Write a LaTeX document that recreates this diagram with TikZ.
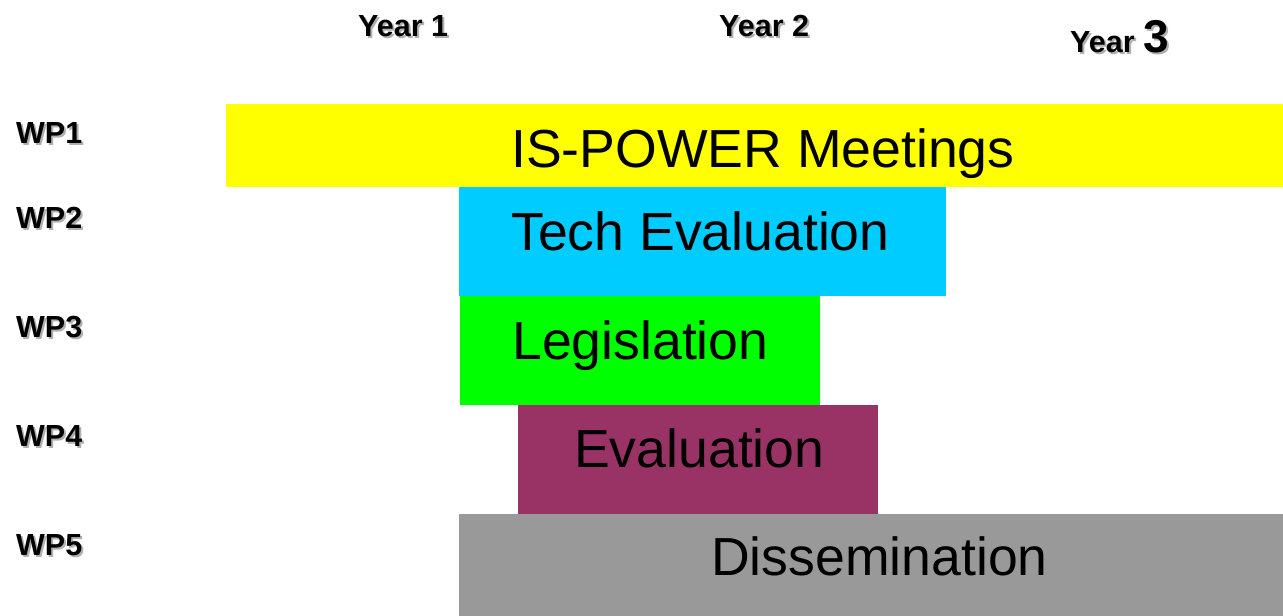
\documentclass[tikz,border=0pt]{standalone}
\usepackage{fontspec}
\setmainfont{Liberation Sans}
\definecolor{barY}{HTML}{FFFF00}
\definecolor{barC}{HTML}{00CCFF}
\definecolor{barG}{HTML}{00FF00}
\definecolor{barM}{HTML}{993366}
\definecolor{barS}{HTML}{999999}
\definecolor{shade}{HTML}{B0B0B0}
\begin{document}
\begin{tikzpicture}[x=1pt,y=-1pt,
  bar/.style={draw=none,inner sep=0pt,outer sep=0pt,anchor=north west},
  bartext/.style={inner sep=0pt,anchor=base west,font=\fontsize{53.6}{60}\selectfont},
  lbl/.style={inner sep=0pt,anchor=base west,font=\bfseries\fontsize{30.5}{33}\selectfont},
  lblshadow/.style={lbl,text=shade}]
\useasboundingbox (0,0) rectangle (1283,616);
% bars
\node[bar,fill=barY,minimum width=1057pt,minimum height=83pt] (b1) at (226,104) {};
\node[bar,fill=barC,minimum width=487pt,minimum height=109pt] (b2) at (459,187) {};
\node[bar,fill=barG,minimum width=360pt,minimum height=109pt] (b3) at (460,296) {};
\node[bar,fill=barM,minimum width=360pt,minimum height=109pt] (b4) at (518,405) {};
\node[bar,fill=barS,minimum width=824pt,minimum height=102pt] (b5) at (459,514) {};
% bar texts
\node[bartext] (t1) at (511,167) {IS-POWER Meetings};
\node[bartext] (t2) at (511,250) {Tech Evaluation};
\node[bartext] (t3) at (512,359) {Legislation};
\node[bartext] (t4) at (574,467) {Evaluation};
\node[bartext] (t5) at (711,575) {Dissemination};
% year headings
\node[lblshadow] (y1s) at (360,38) {Year 1};
\node[lbl] (y1) at (358,36) {Year 1};
\node[lblshadow] (y2s) at (721,38) {Year 2};
\node[lbl] (y2) at (719,36) {Year 2};
\node[lblshadow] (y3s) at (1072,54) {Year \fontsize{46}{50}\selectfont 3};
\node[lbl] (y3) at (1070,52) {Year \fontsize{46}{50}\selectfont 3};
% WP labels
\foreach \n/\y in {1/143,2/228,3/337,4/446,5/555}{
  \node[lblshadow] (wp\n s) at (18,\y+2) {WP\n};
  \node[lbl] (wp\n) at (16,\y) {WP\n};
}
\end{tikzpicture}
\end{document}
